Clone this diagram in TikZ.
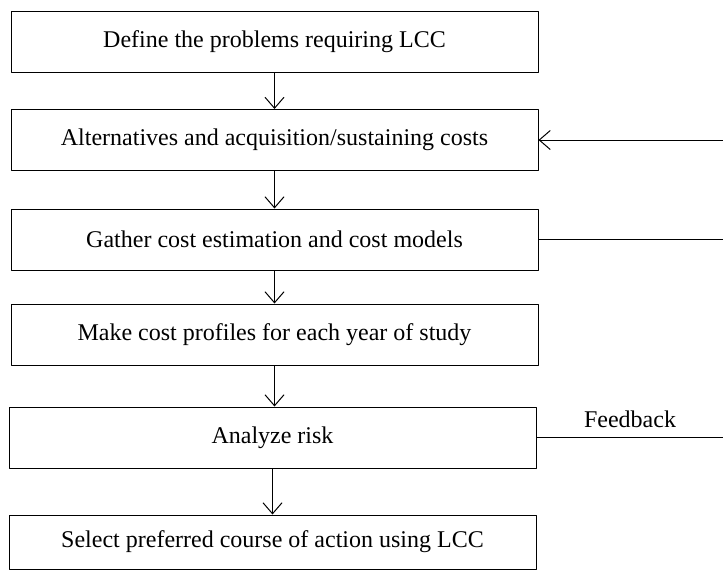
\documentclass[tikz,border=0pt]{standalone}
\usepackage{fontspec}
\setmainfont{Liberation Serif}
\usetikzlibrary{arrows.meta}
\tikzset{
  stage/.style={draw, line width=0.5pt, minimum width=263.5pt, minimum height=30.5pt,
    inner sep=0pt, font=\fontsize{12}{14}\selectfont},
  flow/.style={line width=0.5pt, -{Straight Barb[length=5.5pt,width=9.5pt]}}
}
\begin{document}
\begin{tikzpicture}[x=0.5pt,y=-0.5pt,line cap=round,line join=round]
  \useasboundingbox (0,0) rectangle (723,575);
  \node[stage] (D) at (274.5,41.5) {Define the problems requiring LCC};
  \node[stage] (A) at (274.5,140) {Alternatives and acquisition/sustaining costs};
  \node[stage] (G) at (274.5,239.5) {Gather cost estimation and cost models};
  \node[stage] (P) at (274.5,334.5) {Make cost profiles for each year of study};
  \node[stage] (R) at (272.5,437.5) {Analyze risk};
  \node[stage, minimum height=27pt] (S) at (272.5,542) {Select preferred course of action using LCC};
  \coordinate (I) at (723,140);
  \coordinate (O) at (723,239.5);
  \coordinate (K) at (723,437.5);
  \draw[flow] (D) -- (A);
  \draw[flow] (A) -- (G);
  \draw[flow] (G) -- (P);
  \draw[flow] (P.south) -- (P.south |- R.north);
  \draw[flow] (R) -- (S);
  \draw[flow] (I) -- (A);
  \draw[line width=0.5pt] (G) -- (O);
  \draw[line width=0.5pt] (R) -- (K);
  \node[anchor=base west, font=\fontsize{12}{14}\selectfont] (F) at (577,427) {Feedback};
\end{tikzpicture}
\end{document}
